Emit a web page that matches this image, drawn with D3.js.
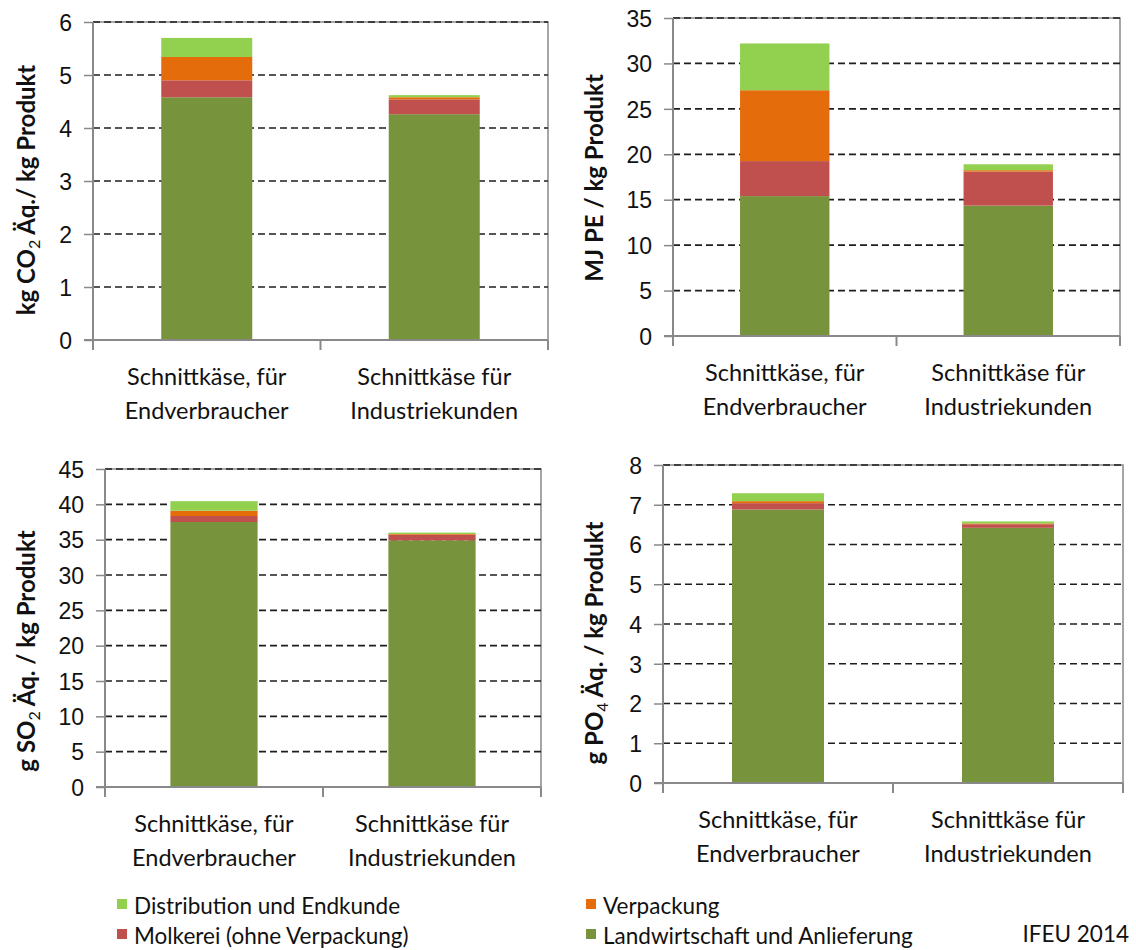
<!DOCTYPE html>
<html lang="de">
<head>
<meta charset="utf-8">
<title>Schnittkäse – Umweltwirkungen je kg Produkt</title>
<script src="https://cdn.jsdelivr.net/npm/d3@7"></script>
<style>
  html, body { margin: 0; padding: 0; background: #fff; }
  svg { display: block; font-family: Lato, "Open Sans", sans-serif; }
</style>
</head>
<body>
<svg id="chart" width="1136" height="950"></svg>
<script>
// Products compared in every panel
const categories = ["Endverbraucher", "Industriekunden"];
const categoryLines = [["Schnittkäse, für", "Endverbraucher"], ["Schnittkäse für", "Industriekunden"]];

// Life-cycle stages, stacked bottom to top
const stages = ["Landwirtschaft und Anlieferung", "Molkerei (ohne Verpackung)", "Verpackung", "Distribution und Endkunde"];
const stageColors = ["#77933C", "#C0504D", "#E46C0A", "#92D050"];

// Values per stage (rows) and product (columns)
const co2Values = [[4.58, 4.26], [0.32, 0.28], [0.44, 0.04], [0.36, 0.04]];
const peValues  = [[15.4, 14.35], [3.85, 3.75], [7.8, 0.15], [5.15, 0.65]];
const so2Values = [[37.5, 34.9], [0.85, 0.8], [0.75, 0.1], [1.35, 0.2]];
const po4Values = [[6.88, 6.42], [0.16, 0.09], [0.05, 0.02], [0.2, 0.05]];

// Axis ticks per panel
const co2Ticks = [0, 1, 2, 3, 4, 5, 6];
const peTicks  = [0, 5, 10, 15, 20, 25, 30, 35];
const so2Ticks = [0, 5, 10, 15, 20, 25, 30, 35, 40, 45];
const po4Ticks = [0, 1, 2, 3, 4, 5, 6, 7, 8];

const legendRows = [
  [{ stage: 3 }, { stage: 2 }],
  [{ stage: 1 }, { stage: 0 }]
];
const sourceNote = "IFEU 2014";

const panels = [
  { values: co2Values, ticks: co2Ticks, title: ["kg CO", "2", " Äq./ kg Produkt"],
    box: { x0: 93, x1: 548, top: 22, zero: 340 }, titlePos: [27, 190] },
  { values: peValues, ticks: peTicks, title: ["MJ PE / kg Produkt"],
    box: { x0: 673, x1: 1120, top: 18, zero: 336 }, titlePos: [595, 178] },
  { values: so2Values, ticks: so2Ticks, title: ["g SO", "2", " Äq. / kg Produkt"],
    box: { x0: 105, x1: 541, top: 469, zero: 787 }, titlePos: [27, 651] },
  { values: po4Values, ticks: po4Ticks, title: ["g PO", "4", " Äq. / kg Produkt"],
    box: { x0: 663, x1: 1123, top: 465, zero: 783 }, titlePos: [595, 643] }
];

const svg = d3.select("#chart");
const axisGrey = "#898989";
const textColor = "#111";

panels.forEach(p => {
  const b = p.box;
  const g = svg.append("g");
  const maxTick = p.ticks[p.ticks.length - 1];

  const x = d3.scaleBand().domain(categories).range([b.x0, b.x1])
    .paddingInner(0.6).paddingOuter(0.3);
  const y = d3.scaleLinear().domain([0, maxTick]).range([b.zero, b.top]);

  // plot frame (top and right edges)
  g.append("path")
    .attr("d", `M${b.x0},${b.top}H${b.x1}V${b.zero}`)
    .attr("fill", "none").attr("stroke", axisGrey).attr("stroke-width", 1.5);

  // dashed gridlines
  g.append("g").selectAll("line").data(p.ticks.filter(t => t > 0)).join("line")
    .attr("x1", b.x0).attr("x2", b.x1)
    .attr("y1", d => y(d)).attr("y2", d => y(d))
    .attr("stroke", "#1e1e1e").attr("stroke-width", 1.7)
    .attr("stroke-dasharray", "7,4");

  // stacked bars
  const rows = categories.map((c, ci) => {
    const r = { cat: c };
    stages.forEach((s, si) => { r[s] = p.values[si][ci]; });
    return r;
  });
  const stack = d3.stack().keys(stages)(rows);
  g.append("g").selectAll("g").data(stack).join("g")
    .attr("fill", (d, i) => stageColors[i])
    .selectAll("rect").data(d => d).join("rect")
    .attr("x", d => x(d.data.cat))
    .attr("width", x.bandwidth())
    .attr("y", d => y(d[1]))
    .attr("height", d => y(d[0]) - y(d[1]));

  // y axis
  const yAxis = g.append("g").attr("transform", `translate(${b.x0},0)`)
    .call(d3.axisLeft(y).tickValues(p.ticks).tickSize(9).tickPadding(12).tickFormat(d3.format("d")));
  yAxis.select(".domain").attr("stroke", axisGrey).attr("stroke-width", 2)
    .attr("d", `M0,${b.top}V${b.zero + 10}`);
  yAxis.selectAll(".tick line").attr("stroke", axisGrey).attr("stroke-width", 1.5);
  yAxis.selectAll(".tick text").attr("fill", textColor).style("font-size", "23px")
    .attr("dy", "0.36em");

  // x axis with ticks on category boundaries
  const xAxis = g.append("g").attr("transform", `translate(0,${b.zero})`)
    .call(d3.axisBottom(x).tickSize(0).tickFormat(""));
  xAxis.select(".domain").attr("stroke", axisGrey).attr("stroke-width", 2)
    .attr("d", `M${b.x0 - 9},0H${b.x1}`);
  const boundaries = d3.range(categories.length + 1).map(i => b.x0 + i * x.step());
  xAxis.append("g").selectAll("line").data(boundaries).join("line")
    .attr("x1", d => d).attr("x2", d => d).attr("y1", 0).attr("y2", 10)
    .attr("stroke", axisGrey).attr("stroke-width", 2);

  // category labels
  g.append("g").selectAll("text").data(categories).join("text")
    .attr("text-anchor", "middle").attr("fill", textColor).style("font-size", "23.5px")
    .each(function (c, i) {
      const t = d3.select(this);
      categoryLines[i].forEach((line, li) => {
        t.append("tspan").attr("x", x(c) + x.bandwidth() / 2)
          .attr("y", b.zero + 45 + li * 34).text(line);
      });
    });

  // y axis title with chemical subscripts
  const title = g.append("text")
    .attr("transform", `translate(${p.titlePos[0]},${p.titlePos[1]}) rotate(-90)`)
    .attr("text-anchor", "middle").attr("dy", "0.35em")
    .attr("fill", textColor).style("font-size", "24px").style("font-weight", "bold");
  p.title.forEach((part, i) => {
    const sub = p.title.length === 3 && i === 1;
    const ts = title.append("tspan").text(part);
    if (sub) ts.style("font-size", "16px").style("font-weight", "normal").attr("dy", 5);
    if (p.title.length === 3 && i === 2) ts.attr("dy", -5);
  });
});

// legend
const legendCols = [117, 586];
const legendRowY = [899, 929];
legendRows.forEach((row, ri) => {
  row.forEach((item, ci) => {
    const lg = svg.append("g").attr("transform", `translate(${legendCols[ci]},${legendRowY[ri]})`);
    lg.append("rect").attr("width", 10).attr("height", 10).attr("fill", stageColors[item.stage]);
    lg.append("text").attr("x", 17).attr("y", 15).attr("fill", textColor)
      .style("font-size", "22.5px").text(stages[item.stage]);
  });
});
svg.append("text").attr("x", 1129).attr("y", 942).attr("text-anchor", "end")
  .attr("fill", textColor).style("font-size", "22.5px").text(sourceNote);
</script>
</body>
</html>
